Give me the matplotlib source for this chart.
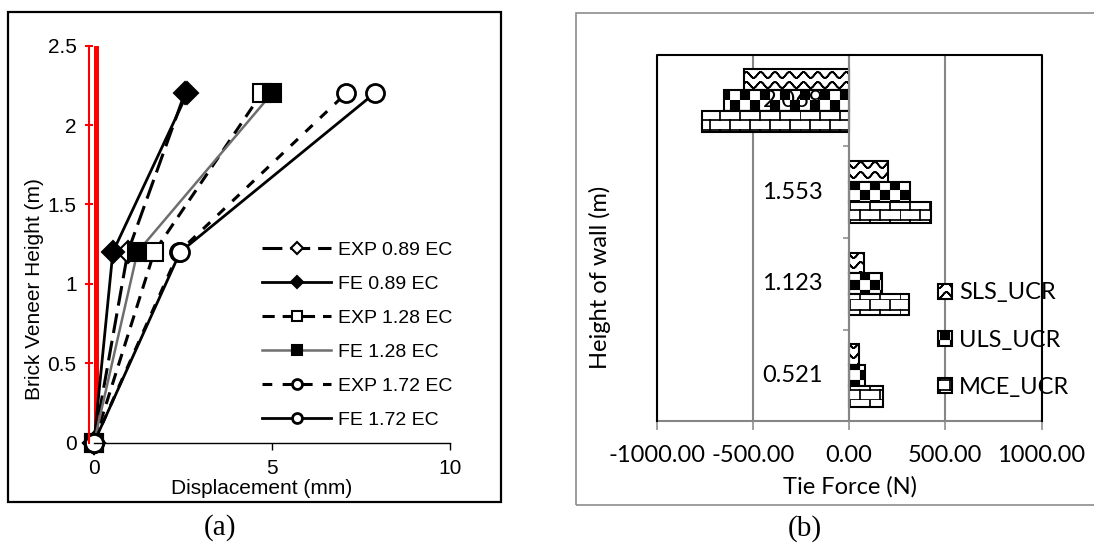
import warnings
import numpy as np
import matplotlib
matplotlib.use('Agg')
import matplotlib.pyplot as plt
import matplotlib.hatch as mhatch
from matplotlib.path import Path
from matplotlib.patches import Rectangle
from matplotlib.ticker import FormatStrFormatter

warnings.filterwarnings('ignore')

# (a) displacement profiles
height_m = [0, 1.2, 2.2]
exp089 = [0, 0.95, 2.55]
fe089 = [0, 0.53, 2.62]
exp128 = [0, 1.69, 4.71]
fe128 = [0, 1.22, 5.0]
exp172 = [0, 2.38, 7.08]
fe172 = [0, 2.42, 7.88]
series_names = ['EXP 0.89 EC', 'FE 0.89 EC', 'EXP 1.28 EC', 'FE 1.28 EC', 'EXP 1.72 EC', 'FE 1.72 EC']

# (b) tie forces
wall_h = ['0.521', '1.123', '1.553', '2.069']
sls = [52, 76, 205, -546]
uls = [85, 173, 317, -649]
mce = [178, 313, 425, -762]


# custom hatches: wave, checkerboard, brick (unit tile)
class WaveHatch(mhatch.HatchPatternBase):
    def __init__(self, hatch, density):
        self.npts = 71
        self.rows = 10
        self.num_vertices = 2 * self.npts * self.rows if '~' in hatch else 0

    def set_vertices_and_codes(self, vertices, codes):
        t = np.linspace(0, 1, self.npts)
        k = 0
        for r in range(self.rows):
            y = (r + 0.5) / self.rows + 0.03 * np.sin(2 * np.pi * 7 * t)
            pts = np.column_stack([t, y])
            pts = np.vstack([pts, pts[::-1]])
            vertices[k:k + len(pts)] = pts
            codes[k] = Path.MOVETO
            codes[k + 1:k + len(pts)] = Path.LINETO
            k += len(pts)


class CheckHatch(mhatch.HatchPatternBase):
    def __init__(self, hatch, density):
        self.n = 10
        self.num_vertices = 5 * self.n * self.n // 2 if 'c' in hatch else 0

    def set_vertices_and_codes(self, vertices, codes):
        d = 1.0 / self.n
        e = 0.008
        k = 0
        for i in range(self.n):
            for j in range(self.n):
                if (i + j) % 2:
                    continue
                x0, y0 = j * d + e, i * d + e
                x1, y1 = (j + 1) * d - e, (i + 1) * d - e
                vertices[k:k + 5] = [(x0, y0), (x1, y0), (x1, y1), (x0, y1), (x0, y0)]
                codes[k:k + 5] = [Path.MOVETO, Path.LINETO, Path.LINETO, Path.LINETO, Path.CLOSEPOLY]
                k += 5


class BrickHatch(mhatch.HatchPatternBase):
    def __init__(self, hatch, density):
        self.rows = 10
        self.per_row = 5
        self.num_vertices = (2 * self.rows + 2 * self.rows * self.per_row) if 'b' in hatch else 0

    def set_vertices_and_codes(self, vertices, codes):
        k = 0
        for r in range(self.rows):
            y = r / self.rows
            vertices[k:k + 2] = [(0, y), (1, y)]
            codes[k:k + 2] = [Path.MOVETO, Path.LINETO]
            k += 2
            for j in range(self.per_row):
                x = ((j + 0.5 * (r % 2)) / self.per_row) % 1.0
                vertices[k:k + 2] = [(x, y), (x, y + 1.0 / self.rows)]
                codes[k:k + 2] = [Path.MOVETO, Path.LINETO]
                k += 2


mhatch._hatch_types.extend([WaveHatch, CheckHatch, BrickHatch])

plt.rcParams['font.family'] = ['Liberation Sans', 'DejaVu Sans']
plt.rcParams['hatch.linewidth'] = 1.25

fig = plt.figure(figsize=(10.94, 5.43), dpi=100)
W, H = 1094.0, 543.0

# panel frames
fig.add_artist(Rectangle((8 / W, 1 - 502 / H), 493 / W, 490 / H, transform=fig.transFigure,
                         fill=False, ec='black', lw=1.6))
fig.add_artist(Rectangle((576 / W, 1 - 504.7 / H), 540 / W, 491.9 / H, transform=fig.transFigure,
                         fill=False, ec='#8c8c8c', lw=1.2))

# ---------------- (a) ----------------
ax = fig.add_axes([94 / W, 1 - 442.5 / H, 356 / W, 396.8 / H])
styles = [
    dict(color='black', lw=2.2, dashes=(6.5, 2.6), marker='D', ms=11.5, mfc='white', mec='black', mew=1.5),
    dict(color='black', lw=2.0, ls='-', marker='D', ms=11.5, mfc='black', mec='black', mew=1.5),
    dict(color='black', lw=2.2, dashes=(4.0, 2.6), marker='s', ms=12.5, mfc='white', mec='black', mew=1.5),
    dict(color='#6e6e6e', lw=1.8, ls='-', marker='s', ms=12.5, mfc='black', mec='black', mew=1.5),
    dict(color='black', lw=2.2, dashes=(3.2, 3.4), marker='o', ms=13, mfc='white', mec='black', mew=2),
    dict(color='black', lw=2.0, ls='-', marker='o', ms=13, mfc='white', mec='black', mew=2),
]
for xs, name, st in zip([exp089, fe089, exp128, fe128, exp172, fe172], series_names, styles):
    ax.plot(xs, height_m, label=name, clip_on=False, **st)

ax.set_xlim(0, 10)
ax.set_ylim(0, 2.5)
ax.set_xticks([0, 5, 10])
ax.set_yticks([0, 0.5, 1, 1.5, 2, 2.5])
ax.yaxis.set_major_formatter(FormatStrFormatter('%g'))
for s in ['top', 'right']:
    ax.spines[s].set_visible(False)
ax.spines['bottom'].set_bounds(0, 10)
ax.spines['bottom'].set_linewidth(1.0)
ax.spines['left'].set_position(('data', -0.14))
ax.spines['left'].set_color('red')
ax.spines['left'].set_linewidth(1.5)
ax.axvline(0.06, color='red', lw=4.3, zorder=1)
ax.tick_params(axis='x', direction='out', length=5, width=1, pad=7, labelsize=15)
ax.tick_params(axis='y', direction='inout', length=6, width=1.5, color='red', pad=6, labelsize=15)
ax.set_xlabel('Displacement (mm)', fontsize=15)
ax.xaxis.set_label_coords(0.472, -0.1147)
ax.xaxis.label.set_verticalalignment('center')
ax.set_ylabel('Brick Veneer Height (m)', fontsize=15)
ax.yaxis.set_label_coords(-0.168, 0.387)
ax.yaxis.label.set_verticalalignment('center')
ax.legend(loc='center left', bbox_to_anchor=(262 / W, 1 - 335.2 / H), bbox_transform=fig.transFigure,
          frameon=False, fontsize=14, markerscale=0.55, handlelength=3.55, handletextpad=0.36,
          labelspacing=0.84, borderpad=0, borderaxespad=0)

# ---------------- (b) ----------------
ax2 = fig.add_axes([656.5 / W, 1 - 421.4 / H, 385 / W, 366.9 / H])
y = np.arange(len(wall_h))
bh = 0.227
ax2.barh(y + bh, sls, height=bh, color='white', edgecolor='black', lw=1.5, hatch='~', label='SLS_UCR')
ax2.barh(y, uls, height=bh, color='white', edgecolor='black', lw=1.5, hatch='c', label='ULS_UCR')
ax2.barh(y - bh, mce, height=bh, color='white', edgecolor='black', lw=1.5, hatch='b', label='MCE_UCR')
ax2.set_xlim(-1000, 1000)
ax2.set_ylim(-0.5, len(wall_h) - 0.5)
ax2.set_xticks([-1000, -500, 0, 500, 1000])
ax2.xaxis.set_major_formatter(FormatStrFormatter('%.2f'))
ax2.set_yticks([0.5, 1.5, 2.5])
ax2.set_yticklabels([])
ax2.set_axisbelow(True)
ax2.xaxis.grid(True, color='#868686', lw=1.5)
for s in ['top', 'right']:
    ax2.spines[s].set_visible(False)
ax2.spines['left'].set_position(('data', 0))
ax2.spines['left'].set_color('#868686')
ax2.spines['left'].set_linewidth(1.5)
ax2.spines['bottom'].set_color('#868686')
ax2.spines['bottom'].set_linewidth(1.5)
ax2.plot([0, 0, 1, 1], [0, 1, 1, 0], transform=ax2.transAxes, color='black', lw=1.5, clip_on=False, zorder=3)
ax2.tick_params(axis='x', direction='out', length=6.3, width=1.1, color='#868686', pad=11, labelsize=17,
                labelfontfamily='Lato')
ax2.tick_params(axis='y', direction='out', length=4.5, width=1.1, color='#868686')
for i, lbl in enumerate(wall_h):
    ax2.annotate(lbl, xy=(0, y[i]), xytext=(-18.7, 0), textcoords='offset points', ha='right', va='center',
                 fontsize=17, family='Lato', zorder=5)
ax2.set_xlabel('Tie Force (N)', fontsize=17, family='Lato')
ax2.xaxis.set_label_coords(0.5026, -0.1796)
ax2.xaxis.label.set_verticalalignment('center')
ax2.set_ylabel('Height of wall (m)', fontsize=17, family='Lato')
ax2.yaxis.set_label_coords(-0.1468, 0.392)
ax2.yaxis.label.set_verticalalignment('center')
ax2.legend(loc='center left', bbox_to_anchor=(938 / W, 1 - 340.1 / H), bbox_transform=fig.transFigure,
           frameon=False, prop={'family': 'Lato', 'size': 17}, handlelength=0.6, handleheight=0.6,
           handletextpad=0.3, labelspacing=1.11, borderpad=0, borderaxespad=0)

fig.text(220 / W, 1 - 528 / H, '(a)', ha='center', va='center', fontsize=21, family='Liberation Serif')
fig.text(805 / W, 1 - 529 / H, '(b)', ha='center', va='center', fontsize=21, family='Liberation Serif')

fig.savefig('out.png', dpi=100, facecolor='white')
